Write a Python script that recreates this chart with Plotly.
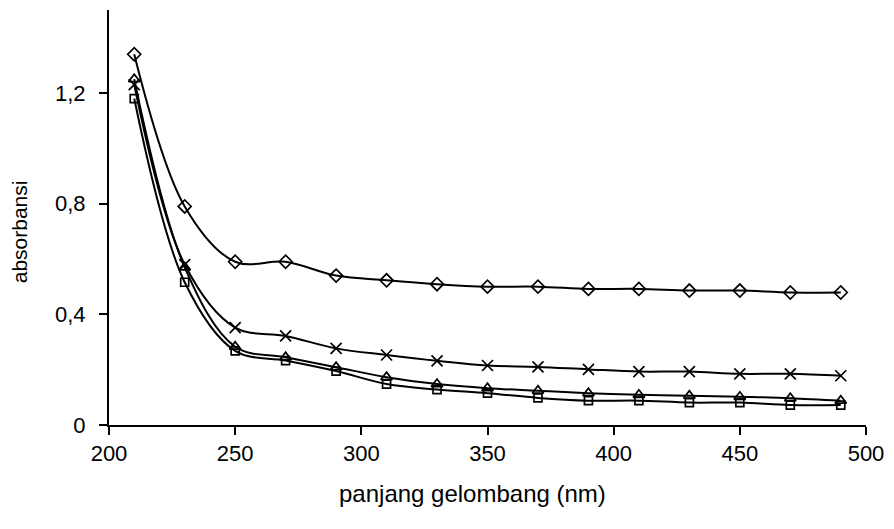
import plotly.graph_objects as go

# Wavelengths (nm) and absorbance readings for four samples
wavelength = [210, 230, 250, 270, 290, 310, 330, 350, 370, 390, 410, 430, 450, 470, 490]

abs_diamond = [1.34, 0.79, 0.59, 0.59, 0.54, 0.523, 0.509, 0.500, 0.500, 0.492, 0.492, 0.486, 0.486, 0.479, 0.479]
abs_cross = [1.23, 0.58, 0.352, 0.322, 0.277, 0.253, 0.232, 0.215, 0.210, 0.201, 0.193, 0.193, 0.185, 0.185, 0.178]
abs_triangle = [1.25, 0.57, 0.283, 0.245, 0.209, 0.173, 0.148, 0.133, 0.124, 0.115, 0.109, 0.106, 0.102, 0.097, 0.088]
abs_square = [1.18, 0.516, 0.268, 0.233, 0.195, 0.148, 0.128, 0.115, 0.098, 0.088, 0.088, 0.081, 0.081, 0.072, 0.072]

x_ticks = [200, 250, 300, 350, 400, 450, 500]
y_ticks = [0, 0.4, 0.8, 1.2]
y_tick_labels = ["0", "0,4", "0,8", "1,2"]

x_title = "panjang gelombang (nm)"
y_title = "absorbansi"

FONT = "Liberation Sans, Arial, sans-serif"

series = [
    (abs_diamond, "diamond-open", 10),
    (abs_cross, "x-thin-open", 11),
    (abs_triangle, "triangle-up-open", 10),
    (abs_square, "square-open", 8),
]

fig = go.Figure()
for values, symbol, size in series:
    fig.add_trace(go.Scatter(
        x=wavelength,
        y=values,
        mode="lines+markers",
        line=dict(color="black", width=2, shape="spline", smoothing=1),
        marker=dict(symbol=symbol, size=size, color="black",
                    line=dict(color="black", width=1.7)),
        showlegend=False,
    ))

axis_common = dict(
    showline=True,
    linecolor="black",
    linewidth=2,
    ticks="outside",
    ticklen=8,
    tickwidth=2,
    tickcolor="black",
    showgrid=False,
    zeroline=False,
    tickfont=dict(family=FONT, size=22, color="black"),
)

fig.update_xaxes(range=[200, 500], tickvals=x_ticks, ticklabelstandoff=0, **axis_common)
fig.update_yaxes(range=[0, 1.5], tickvals=y_ticks, ticktext=y_tick_labels,
                 ticklabelstandoff=9, **axis_common)

fig.add_annotation(text=x_title, xref="paper", yref="paper", x=0.48, y=-0.166,
                   xanchor="center", yanchor="middle", showarrow=False,
                   font=dict(family=FONT, size=24, color="black"))
fig.add_annotation(text=y_title, xref="paper", yref="paper", x=-0.118, y=0.466,
                   xanchor="center", yanchor="middle", textangle=-90, showarrow=False,
                   font=dict(family=FONT, size=21, color="black"))

fig.update_layout(
    width=894,
    height=529,
    margin=dict(l=109, r=25, t=10, b=104),
    paper_bgcolor="white",
    plot_bgcolor="white",
)

fig.write_html("out.html")
